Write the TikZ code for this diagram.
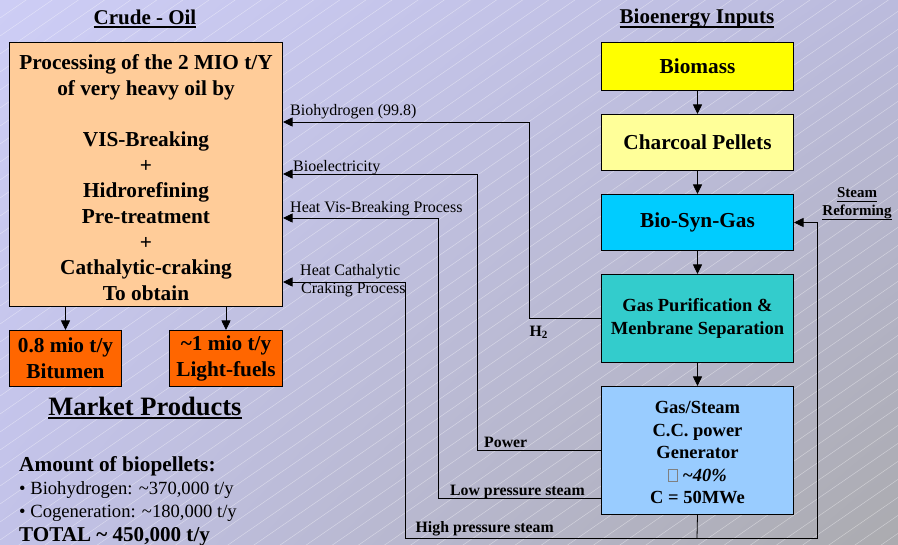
\documentclass[tikz,border=0pt]{standalone}
\usepackage{fontspec}
\setmainfont{Liberation Serif}
\usetikzlibrary{arrows.meta,shadings}

\definecolor{bgA}{HTML}{CDCDF5}
\definecolor{bgB}{HTML}{BBBBDD}
\definecolor{bgC}{HTML}{C2C2E8}
\definecolor{bgD}{HTML}{ABABAF}
\definecolor{crudeC}{HTML}{FFCC99}
\definecolor{prodC}{HTML}{FF6600}
\definecolor{bmC}{HTML}{FFFF00}
\definecolor{cpC}{HTML}{FFFF99}
\definecolor{synC}{HTML}{00CCFF}
\definecolor{gpC}{HTML}{33CCCC}
\definecolor{gsC}{HTML}{99CCFF}

% underlined text: [thickness]{text}, rule set a few points below the baseline
\newcommand\uln[2][1.8pt]{\setbox0=\hbox{#2}\rlap{\copy0}\rule[-4pt]{\wd0}{#1}}
% small empty glyph box shown in front of the efficiency value
\newcommand\glyphbox{{\color{gray}\fboxsep=0pt\fboxrule=0.6pt\framebox[9.5pt]{\rule{0pt}{11.5pt}}}}

\begin{document}
\begin{tikzpicture}[x=1pt,y=-1pt,
  box/.style={draw=black, line width=1pt, align=center, inner sep=0pt, anchor=north west},
  arr/.style={-{Triangle[length=9.5pt,width=9pt]}, line width=0.8pt},
  link/.style={line width=0.8pt},
  lbl/.style={font=\fontsize{16}{19}\selectfont, inner sep=0pt, align=left, anchor=base west},
  blbl/.style={font=\bfseries\fontsize{15.8}{18}\selectfont, inner sep=0pt, anchor=base west},
  title/.style={font=\bfseries\fontsize{21}{25}\selectfont, inner sep=0pt},
  big/.style={font=\bfseries\fontsize{21.3}{25.6}\selectfont},
  mid/.style={font=\bfseries\fontsize{18.5}{22.5}\selectfont},
]
\useasboundingbox (0,0) rectangle (898,545);

% background: soft gradient with fine diagonal hatching
\shade[upper left=bgA, upper right=bgB, lower left=bgC, lower right=bgD] (0,0) rectangle (898,545);
\begin{scope}
  \clip (0,0) rectangle (898,545);
  \foreach \k in {0,...,70}
    \draw[white, opacity=0.4, line width=0.5pt] (0,\k*18) -- ++(900,-620);
\end{scope}

% crude-oil side
\node[title] (tcrude) at (145,19) {\uln{Crude - Oil}};
\node[box, big, fill=crudeC, minimum width=273pt, minimum height=264pt, text depth=0pt] (crude) at (9,42)
  {\rule{0pt}{3pt}\\[-7.5pt]Processing of the 2 MIO t/Y\\of very heavy oil by\\[25.6pt]VIS-Breaking\\+\\Hidrorefining\\Pre-treatment\\+\\Cathalytic-craking\\To obtain};
\node[box, big, fill=prodC, minimum width=112pt, minimum height=56pt] (bit) at (9,330)
  {0.8 mio t/y\\Bitumen};
\node[box, big, fill=prodC, minimum width=113pt, minimum height=56pt] (lf) at (169,330)
  {\textasciitilde 1 mio t/y\\Light-fuels};
\draw[arr] (crude.south -| bit.north) -- (bit.north);
\draw[arr] (crude.south -| lf.north) -- (lf.north);
\node[font=\bfseries\fontsize{26.5}{30}\selectfont, inner sep=0pt] (market) at (145,408) {\uln[2.2pt]{Market Products}};

\node[anchor=base west, inner sep=0pt, font=\bfseries\fontsize{21.3}{25}\selectfont] (amt1) at (19,472) {Amount of biopellets:};
\node[anchor=base west, inner sep=0pt, font=\fontsize{18.6}{22}\selectfont] (amt2) at (19,495) {\textbullet{} Biohydrogen: \textasciitilde 370,000 t/y};
\node[anchor=base west, inner sep=0pt, font=\fontsize{18.6}{22}\selectfont] (amt3) at (19,518) {\textbullet{} Cogeneration: \textasciitilde 180,000 t/y};
\node[anchor=base west, inner sep=0pt, font=\bfseries\fontsize{21.1}{25}\selectfont] (amt4) at (19,542) {TOTAL \textasciitilde{} 450,000 t/y};

% bioenergy chain
\node[title] (tbio) at (697,19) {\uln{Bioenergy Inputs}};
\node[box, big, fill=bmC, minimum width=192pt, minimum height=48pt] (bm) at (601,42) {Biomass};
\node[box, big, fill=cpC, minimum width=192pt, minimum height=56pt] (cp) at (601,114) {Charcoal Pellets};
\node[box, big, fill=synC, minimum width=192pt, minimum height=56pt] (syn) at (601,194) {Bio-Syn-Gas};
\node[box, mid, fill=gpC, minimum width=192pt, minimum height=88pt] (gp) at (601,274)
  {Gas Purification \&\\Menbrane Separation};
\node[box, mid, fill=gsC, minimum width=192pt, minimum height=128pt, text depth=0pt] (gs) at (601,386)
  {\rule{0pt}{4pt}\\[-10pt]Gas/Steam\\C.C. power\\Generator\\\glyphbox{} \textit{\textasciitilde 40\%}\\C = 50MWe};
\draw[arr] (bm) -- (cp);
\draw[arr] (cp) -- (syn);
\draw[arr] (syn) -- (gp);
\draw[arr] (gp) -- (gs);

\node[font=\bfseries\fontsize{15}{18}\selectfont, align=center, inner sep=0pt] (sr) at (857,204)
  {\uln[1.3pt]{Steam}\\\uln[1.3pt]{Reforming}};

% return flows to the refinery
\coordinate (hyTurn) at (529,122);
\coordinate (elTurn) at (477,174);
\coordinate (vbTurn) at (438,218);
\coordinate (ccTurn) at (405,282);
\coordinate (hpJoin) at (697,538);
\coordinate (srTurn) at (817,538);

\draw[arr] (gp.west) -| (hyTurn) -- (crude.east |- hyTurn);
\draw[arr] (gs.west) -| (elTurn) -- (crude.east |- elTurn);
\draw[arr] ([yshift=-48pt]gs.west) -| (vbTurn) -- (crude.east |- vbTurn);
\draw[link] (gs.south) -- (hpJoin);
\draw[arr] (hpJoin) -| (ccTurn) -- (crude.east |- ccTurn);
\draw[arr] (hpJoin) -- (srTurn) |- (syn.east);

% flow labels
\node[lbl] (lhy) at (290,115.5) {Biohydrogen (99.8)};
\node[lbl] (lel) at (293,172) {Bioelectricity};
\node[lbl] (lvb) at (290,212.5) {Heat Vis-Breaking Process};
\node[lbl] (lcc1) at (300,276) {Heat Cathalytic};
\node[lbl] (lcc2) at (301,294) {Craking Process};
\node[blbl] (lh2) at (529.5,336.5) {H\textsubscript{2}};
\node[blbl] (lpw) at (484,448) {Power};
\node[blbl] (llp) at (450,495.5) {Low pressure steam};
\node[blbl] (lhp) at (415.5,532.5) {High pressure steam};
\end{tikzpicture}
\end{document}
